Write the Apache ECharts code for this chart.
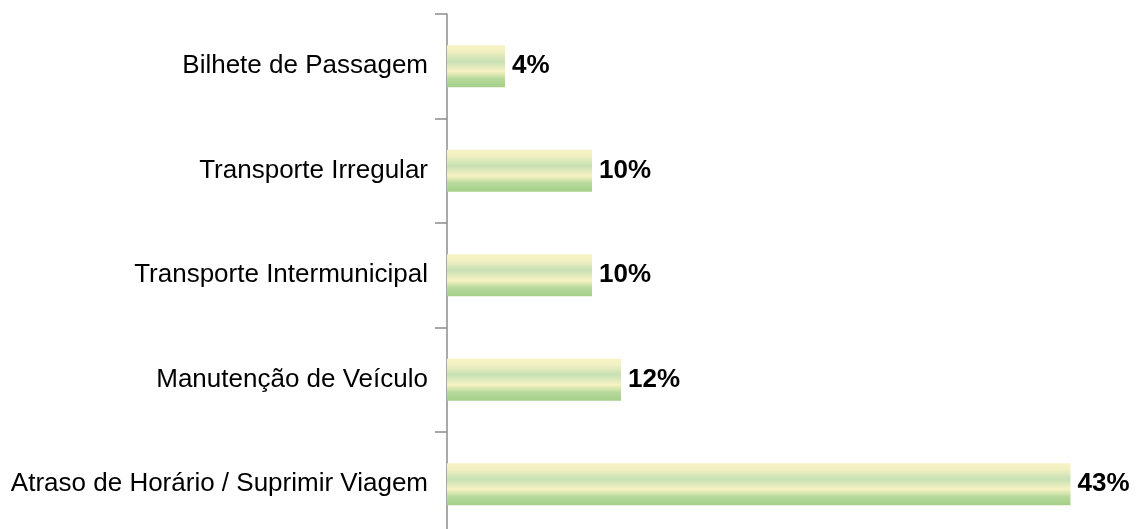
<!DOCTYPE html>
<html>
<head>
<meta charset="utf-8">
<script src="https://cdn.jsdelivr.net/npm/echarts@6/dist/echarts.min.js"></script>
<style>
  html, body { margin: 0; padding: 0; background: #fff; }
  #chart { width: 1139px; height: 529px; }
</style>
</head>
<body>
<div id="chart"></div>
<script>
// dados do gráfico (de baixo para cima)
const categorias = [
    'Atraso de Horário / Suprimir Viagem',
    'Manutenção de Veículo',
    'Transporte Intermunicipal',
    'Transporte Irregular',
    'Bilhete de Passagem'
];
const percentuais = [43, 12, 10, 10, 4];

const chart = echarts.init(document.getElementById('chart'));

// gradiente listrado das barras
const corBarra = new echarts.graphic.LinearGradient(0, 0, 0, 1, [
    { offset: 0, color: '#f8f3c6' },
    { offset: 0.15, color: '#f1f0c2' },
    { offset: 0.38, color: '#c6e0b4' },
    { offset: 0.62, color: '#f7f2c3' },
    { offset: 0.8, color: '#b6d99b' },
    { offset: 1, color: '#a5cf89' }
]);

chart.setOption({
    animation: false,
    grid: {
        left: 447, width: 652.5, top: 14, height: 522.5,
        containLabel: false,
        outerBoundsMode: 'none'
    },
    xAxis: {
        type: 'value',
        min: 0,
        max: 45,
        show: false
    },
    yAxis: {
        type: 'category',
        data: categorias,
        axisLine: { show: true, lineStyle: { color: '#8c8c8c', width: 1.5 } },
        axisTick: { show: true, length: 12, lineStyle: { color: '#8c8c8c', width: 1.5 } },
        axisLabel: {
            margin: 19,
            color: '#000',
            fontSize: 26,
            fontFamily: 'Liberation Sans, Arial, sans-serif'
        }
    },
    series: [{
        type: 'bar',
        data: percentuais,
        barWidth: 42,
        itemStyle: { color: corBarra },
        label: {
            show: true,
            position: 'right',
            distance: 7,
            formatter: p => p.value + '%',
            color: '#000',
            fontSize: 26,
            fontWeight: 'bold',
            fontFamily: 'Liberation Sans, Arial, sans-serif'
        }
    }]
});
</script>
</body>
</html>
